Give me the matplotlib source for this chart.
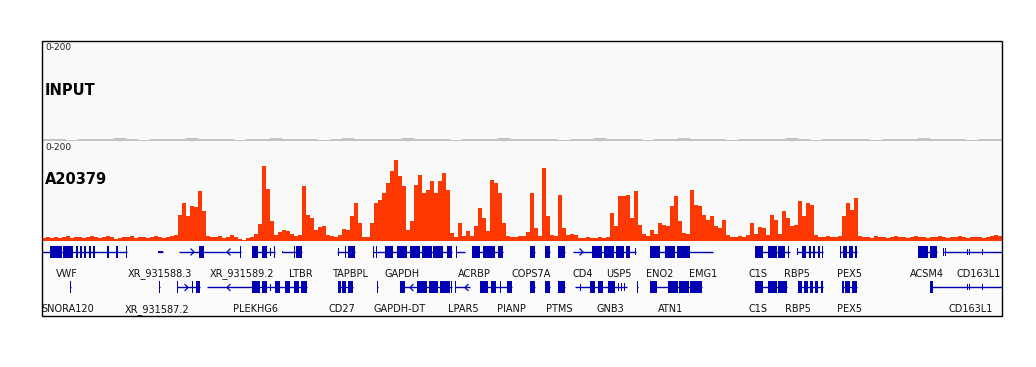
"""
IGV-style browser snapshot: INPUT vs A20379 signal tracks with RefSeq genes
"""

import matplotlib.pyplot as plt
import numpy as np
from matplotlib.patches import Rectangle

W, H = 1036, 367

# ---- data -------------------------------------------------------------
track_names = ['INPUT', 'A20379']
data_range = '0-200'
view_len = 960          # locus width (bins below cover it)

# INPUT coverage, 12-unit bins
input_vals = [4, 5, 3, 4, 5, 4, 6, 4, 3, 5, 4, 5, 6, 4, 4, 5, 3, 4, 5, 6,
              4, 5, 4, 3, 5, 6, 4, 4, 5, 4, 6, 5, 4, 5, 3, 4, 5, 4, 6, 5,
              4, 5, 4, 3, 4, 5, 6, 4, 5, 4, 3, 5, 4, 6, 4, 5, 4, 3, 4, 5,
              4, 5, 6, 4, 3, 5, 4, 4, 5, 3, 4, 5, 4, 6, 4, 5, 4, 3, 5, 4]

# A20379 coverage, 4-unit bins
chip_vals = [6, 8, 7, 9, 6, 8, 10, 7, 9, 8, 6, 9, 11, 8, 7, 9, 10, 8, 5, 7,
             9, 8, 10, 7, 8, 9, 6, 8, 10, 9, 7, 8, 10,
             12, 53, 76, 50, 70, 68, 100,
             60, 10, 8, 9, 11, 7, 9, 12, 8, 4, 3, 6, 9,
             15, 35, 150, 105, 40, 12, 18, 22, 20, 15, 10, 12, 110, 53, 46, 23,
             28, 30, 13, 11, 9, 12, 24, 23, 50, 76, 36,
             8, 8, 36, 76, 83, 96, 116, 140, 163, 130, 110, 23, 40, 113, 133,
             96, 103, 120, 96, 120, 136, 103, 16, 8, 36, 10, 20, 10, 30, 66,
             46, 20, 123, 116, 96, 36, 10, 9, 8, 10,
             10, 18, 96, 26, 10, 146, 50, 12, 10, 93, 26, 12, 14, 12, 7, 6,
             8, 7, 6, 8, 7, 9, 56, 30, 90, 90, 93, 46, 100, 33, 14, 10, 23,
             14, 36, 33, 30, 70, 90, 40,
             16, 14, 103, 73, 70, 53, 43, 50, 30, 26, 43, 12, 9, 8, 10, 9, 12,
             36, 14, 28, 26, 12, 53, 43, 15, 60, 46, 31, 33, 80, 50, 76, 73,
             12, 9, 8, 10, 9, 8, 10,
             50, 76, 63, 86, 10, 8, 9, 7, 10, 8, 9, 7, 8, 10, 9, 8, 7, 9, 10,
             8, 9, 7, 8, 9, 10, 8, 7, 9, 8, 10, 9, 7, 8, 9, 8, 7, 9, 10, 12, 11]

# gene models: row, span, exons (start, end, height), strand arrows
gene_rows = [0] * 20 + [1] * 19
gene_spans = [(0, 85), (116, 121), (137, 162), (162, 199), (210, 233),
              (240, 260), (295, 313), (331, 410), (414, 423), (430, 461),
              (488, 493), (503, 508), (516, 523), (531, 594), (608, 671),
              (713, 748), (755, 781), (798, 815), (876, 895), (901, 960),
              (28, 29), (117, 118), (135, 158), (165, 265), (296, 311),
              (335, 336), (358, 410), (413, 428), (438, 470), (488, 493),
              (503, 508), (516, 523), (533, 585), (595, 596), (608, 660),
              (713, 745), (756, 781), (800, 815), (888, 960)]
gene_exons = [
    [(8, 20, 12), (21, 31, 12), (34, 36, 12), (38, 40, 12), (42, 44, 12),
     (47, 49, 12), (51, 53, 12), (65, 67, 12), (74, 76, 12), (84, 85, 12)],
    [(116, 121, 2)],
    [(157, 162, 12)],
    [(198, 199, 12)],
    [(210, 216, 12), (220, 225, 12), (228, 229, 8), (232, 233, 12)],
    [(240, 241, 2), (252, 253, 12), (254, 260, 12)],
    [(296, 297, 8), (303, 304, 12), (306, 313, 12)],
    [(331, 332, 12), (334, 335, 12), (343, 351, 12), (355, 365, 12),
     (368, 378, 12), (380, 390, 12), (391, 401, 12), (405, 410, 12)],
    [(414, 415, 12)],
    [(430, 438, 12), (441, 453, 12), (456, 461, 12)],
    [(488, 493, 12)],
    [(503, 508, 12)],
    [(516, 523, 12)],
    [(550, 560, 12), (562, 572, 12), (574, 582, 12), (584, 588, 12),
     (593, 594, 7)],
    [(608, 618, 12), (623, 633, 12), (635, 648, 12)],
    [(713, 721, 12), (726, 735, 12), (736, 743, 12), (746, 747, 12)],
    [(755, 756, 7), (760, 764, 12), (767, 769, 12), (771, 773, 12),
     (776, 778, 12), (780, 781, 12)],
    [(798, 799, 12), (801, 805, 12), (807, 811, 12), (813, 815, 12)],
    [(876, 886, 12), (888, 895, 12)],
    [(901, 902, 8), (903, 904, 8), (925, 926, 6), (927, 928, 6),
     (940, 941, 6)],
    [(28, 29, 12)],
    [(117, 118, 12)],
    [(135, 136, 12), (150, 151, 12), (154, 158, 12)],
    [(210, 218, 12), (220, 225, 12), (228, 229, 7), (233, 238, 12),
     (243, 248, 12), (252, 257, 12), (259, 265, 12)],
    [(296, 299, 12), (300, 304, 12), (306, 311, 12)],
    [(335, 336, 12)],
    [(358, 363, 12), (375, 385, 12), (387, 396, 12), (398, 408, 12),
     (409, 410, 12)],
    [(413, 414, 12)],
    [(438, 446, 12), (449, 454, 12), (458, 459, 12), (465, 470, 12)],
    [(488, 493, 12)],
    [(503, 508, 12)],
    [(516, 523, 12)],
    [(538, 539, 7), (548, 553, 12), (556, 561, 12), (566, 573, 12),
     (576, 577, 8), (579, 580, 8), (582, 583, 8)],
    [(595, 596, 12)],
    [(608, 615, 12), (626, 636, 12), (637, 647, 12), (648, 660, 12)],
    [(713, 721, 12), (726, 735, 12), (736, 745, 12)],
    [(756, 760, 12), (762, 766, 12), (768, 771, 12), (773, 776, 12),
     (779, 781, 12)],
    [(800, 802, 12), (803, 808, 12), (810, 815, 12)],
    [(888, 891, 12), (925, 926, 6), (927, 928, 6), (940, 941, 6)],
]
gene_arrows = {2: [(152, 1)], 3: [(185, -1)], 13: [(541, 1)],
               22: [(146, 1)], 23: [(185, -1)], 26: [(368, -1)],
               27: [(423, -1)]}

label_rows = [0] * 17 + [1] * 14
label_text = ['VWF', 'XR_931588.3', 'XR_931589.2', 'LTBR', 'TAPBPL', 'GAPDH',
              'ACRBP', 'COPS7A', 'CD4', 'USP5', 'ENO2', 'EMG1', 'C1S', 'RBP5',
              'PEX5', 'ACSM4', 'CD163L1',
              'SNORA120', 'XR_931587.2', 'PLEKHG6', 'CD27', 'GAPDH-DT',
              'LPAR5', 'PIANP', 'PTMS', 'GNB3', 'ATN1', 'C1S', 'RBP5', 'PEX5',
              'CD163L1']
label_pos = [25, 118, 200, 259, 308, 360, 432, 489, 541, 577, 618, 661, 716,
             755, 807, 885, 937,
             26, 115, 214, 300, 358, 421, 469, 517, 568, 629, 716, 756, 807,
             929]

# ---- styling ----------------------------------------------------------
plt.rcParams.update({'font.family': 'DejaVu Sans', 'font.size': 7})
red = '#ff3800'
gray = '#c4c4c4'
blue = '#0000b2'
panel_bg = '#f9f9f9'


def fig_box(x0, y0, x1, y1):
    return [x0 / W, 1 - y1 / H, (x1 - x0) / W, (y1 - y0) / H]


fig = plt.figure(figsize=(W / 100, H / 100), dpi=100, facecolor='white')

ax_in = fig.add_axes(fig_box(42, 41, 1002, 141))
ax_ch = fig.add_axes(fig_box(42, 141, 1002, 241))
ax_gn = fig.add_axes(fig_box(42, 241, 1002, 316))

in_edges = np.linspace(0, view_len, len(input_vals) + 1)
ch_edges = np.linspace(0, view_len, len(chip_vals) + 1)
ax_in.stairs(input_vals, in_edges, fill=True, color=gray, lw=0)
ax_ch.stairs(chip_vals, ch_edges, fill=True, color=red, lw=0)

# name label heights differ a little between the two tracks
for ax, name, name_y in zip([ax_in, ax_ch], track_names, [101, 124]):
    ax.set_facecolor(panel_bg)
    ax.set_xlim(0, view_len)
    ax.set_ylim(0, 200)
    ax.text(3, 197, data_range, fontsize=6.5, va='top', ha='left', color='#222222')
    ax.text(3, name_y, name, fontsize=10.5, fontweight='bold', va='center', ha='left')

# gene track, y in screen rows
ax_gn.set_facecolor('#fbfbfb')
ax_gn.set_xlim(0, view_len)
ax_gn.set_ylim(316, 241)
row_y = [252, 287.5]
text_y = [274, 309.5]

for i, (row, (s, e), exons) in enumerate(zip(gene_rows, gene_spans, gene_exons)):
    y = row_y[row]
    ax_gn.plot([s, e], [y, y], color=blue, lw=1, solid_capstyle='butt')
    for xs, xe, h in exons:
        ax_gn.add_patch(Rectangle((xs, y - h / 2), max(xe - xs, 1), h,
                                  facecolor=blue, edgecolor='none'))
    for ax_x, d in gene_arrows.get(i, []):
        ax_gn.plot([ax_x - 3 * d, ax_x, ax_x - 3 * d], [y - 3, y, y + 3],
                   color=blue, lw=0.9)

for row, txt, xpos in zip(label_rows, label_text, label_pos):
    ax_gn.text(xpos, text_y[row], txt, fontsize=7, ha='center', va='center',
               color='#111111')

for ax in [ax_in, ax_ch, ax_gn]:
    ax.set_xticks([])
    ax.set_yticks([])
    for sp in ax.spines.values():
        sp.set_visible(False)

fig.add_artist(Rectangle((42 / W, 1 - 316 / H), 960 / W, 275 / H,
                         transform=fig.transFigure, fill=False,
                         edgecolor='black', lw=1))

fig.savefig('out.png', dpi=100, facecolor='white')
plt.close()
